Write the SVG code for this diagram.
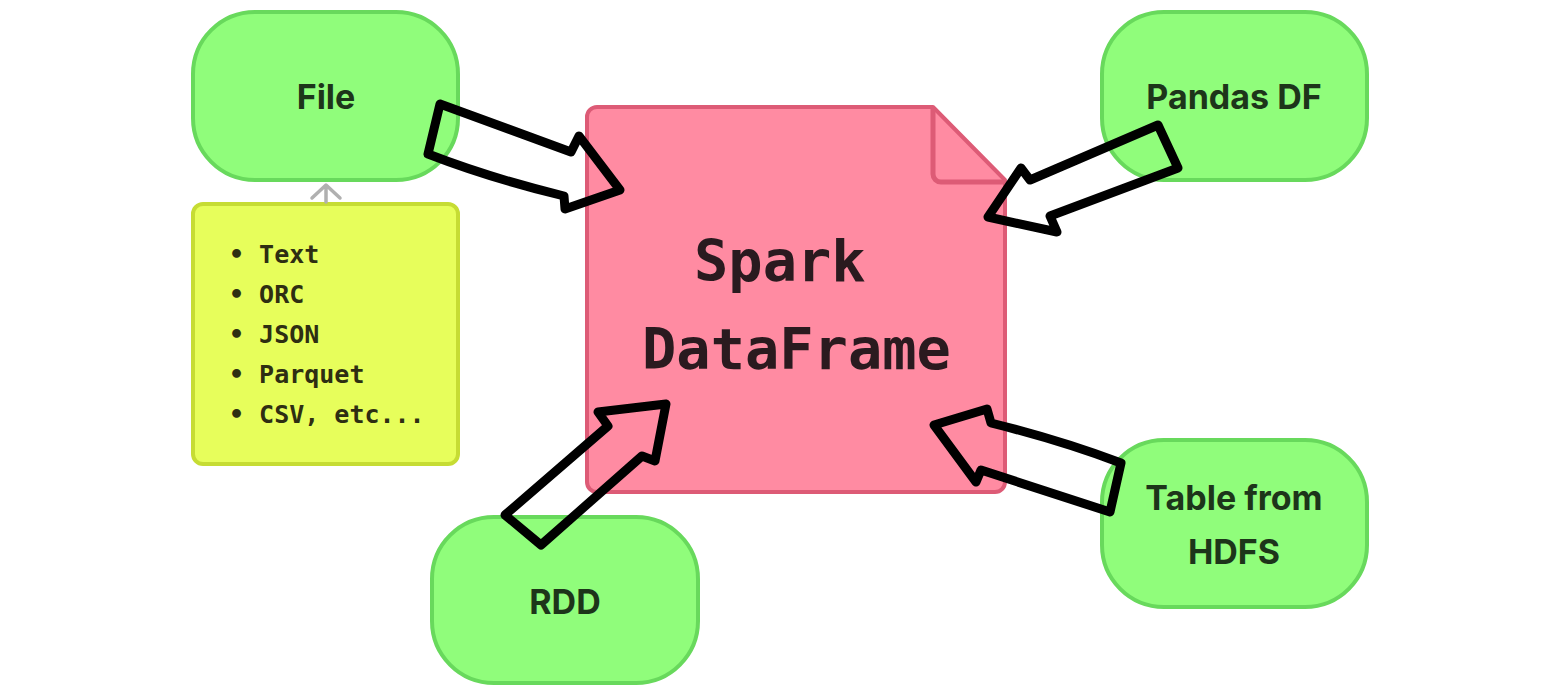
<svg xmlns="http://www.w3.org/2000/svg" width="1560" height="695" viewBox="0 0 1560 695">
<defs>
<style>
.node{fill:#90fd7b;stroke:#68d95c;stroke-width:4}
.lbl{font-family:Inter,"Liberation Sans",sans-serif;font-weight:700;font-size:34px;fill:#1d351a;text-anchor:middle}
.note{fill:#e7fe5b;stroke:#c6dc34;stroke-width:4}
.mono{font-family:"DejaVu Sans Mono","Liberation Mono",monospace;font-weight:700;font-size:25px;fill:#2e2e12}
.big{font-family:"DejaVu Sans Mono","Liberation Mono",monospace;font-weight:700;font-size:57px;fill:#2a1a1f}
.arr{fill:none;stroke:#000;stroke-width:9;stroke-linejoin:round;stroke-linecap:round}
</style>
</defs>
<rect width="1560" height="695" fill="#ffffff"/>
<g id="spark">
<path d="M597,107 H933 L1005,180 V482 a10,10 0 0 1 -10,10 H597 a10,10 0 0 1 -10,-10 V117 a10,10 0 0 1 10,-10 Z" fill="#ff8ba2" stroke="#dd5b76" stroke-width="4" stroke-linejoin="round"/>
<path d="M933,107 V174 a8,8 0 0 0 8,8 H1004" fill="none" stroke="#dd5b76" stroke-width="5" stroke-linejoin="round"/>
<text class="big" x="694" y="281">Spark</text>
<text class="big" x="642" y="369">DataFrame</text>
</g>
<g id="file">
<rect class="node" x="193" y="12" width="265" height="168" rx="62"/>
<text class="lbl" x="326" y="109">File</text>
</g>
<g id="pandas">
<rect class="node" x="1102" y="12" width="265" height="168" rx="62"/>
<text class="lbl" x="1234" y="109">Pandas DF</text>
</g>
<g id="table">
<rect class="node" x="1102" y="440" width="265" height="167" rx="62"/>
<text class="lbl" x="1234" y="510">Table from</text>
<text class="lbl" x="1234" y="564">HDFS</text>
</g>
<g id="rdd">
<rect class="node" x="432" y="517" width="266" height="166" rx="62"/>
<text class="lbl" x="565" y="614">RDD</text>
</g>
<g id="formats">
<rect class="note" x="193" y="204" width="265" height="260" rx="10"/>
<text class="mono" x="229" y="263">• Text</text>
<text class="mono" x="229" y="303">• ORC</text>
<text class="mono" x="229" y="343">• JSON</text>
<text class="mono" x="229" y="383">• Parquet</text>
<text class="mono" x="229" y="423">• CSV, etc...</text>
</g>
<g id="connectors">
<path d="M326,202 V186 M312,198 L326,185 L340,198" fill="none" stroke="#b0b0b0" stroke-width="3.5" stroke-linecap="round" stroke-linejoin="round"/>
<path class="arr" d="M440,104 L571,152 L579,136 L620,190 L565,209 L564,196 Q490,178 428,154 Z"/>
<path class="arr" d="M1158,125 L1178,168 L1050,216 L1057,232 L988,217 L1021,168 L1030,180 Z"/>
<path class="arr" d="M666,404 L598,412 L608,426 L505,515 L541,545 L642,456 L655,461 Z"/>
<path class="arr" d="M934,425 L987,409 L991,423 Q1060,440 1121,463 L1110,512 L981,470 L976,482 Z"/>
</g>
</svg>
